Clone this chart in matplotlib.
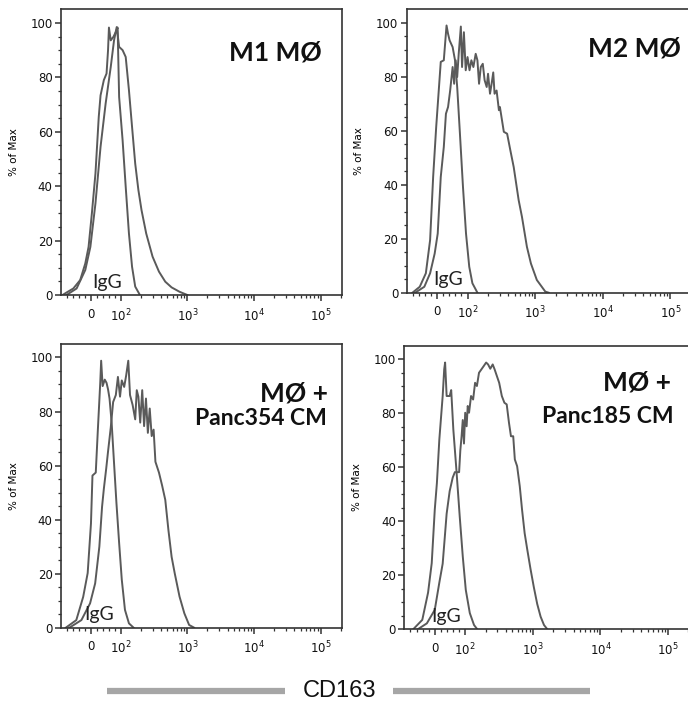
import numpy as np
import matplotlib
matplotlib.use("Agg")
import matplotlib.pyplot as plt
from matplotlib.lines import Line2D

# --- CD163 flow histograms (% of Max) ---
# M1 macrophages
m1_igg_x = [-95, -82, -59, -36, -19, -8, 3, 15, 26, 32, 43, 52, 57, 60, 66, 75, 83, 89, 94,
            106, 118, 132, 147, 164, 193]
m1_igg_y = [0, 0.9, 2.4, 5.5, 11.6, 17.7, 30, 44.7, 65.5, 73.4, 79, 81.4, 90, 98.3, 93.6, 94.9,
            96.7, 98.3, 72.8, 56.9, 39.8, 22.6, 10.4, 3.1, 0]
m1_cd_x = [-82, -48, -19, -2, 15, 32, 49, 66, 77, 86, 94, 106, 118, 132, 147, 164, 183, 204,
           240, 299, 373, 464, 578, 760, 1000]
m1_cd_y = [0, 2.4, 9.2, 17.7, 33.7, 54.5, 70.4, 83.8, 93.6, 98.5, 91.2, 90, 87.5, 75.3, 61.8,
           48.3, 38.6, 31.2, 22.6, 14.1, 8.6, 4.9, 2.8, 1.2, 0]

# M2 macrophages
m2_igg_x = [-81, -57, -37, -23, -13, -3, 12, 22, 31, 36, 41, 51, 59, 66, 75, 85, 95, 106, 118, 140]
m2_igg_y = [0, 2.2, 7.2, 19.5, 42.9, 61.4, 85.5, 86.1, 99, 95.9, 93.5, 91, 86, 76.2, 58.9,
            39.2, 21.9, 9.6, 3.5, 0]
m2_cd_x = [-72, -42, -23, -8, 2, 12, 22, 29, 36, 43, 51, 56, 61, 66, 71, 78, 82, 88, 94, 100,
           107, 114, 122, 132, 140, 148, 157, 168, 179, 192, 201, 215, 227, 240, 251, 269, 291,
           301, 344, 385, 430, 482, 570, 638, 755, 866, 1059, 1413, 1585]
m2_cd_y = [0, 2.2, 7.2, 14.5, 21.9, 42.9, 54, 66.3, 68.8, 75, 83.6, 77.4, 86.1, 79.9, 88.5,
           98.6, 83.6, 96.5, 82.4, 87.3, 82.4, 86.1, 83.6, 88.5, 86.1, 77.4, 83.6, 84.8, 78.7,
           76.2, 81.1, 73.7, 77.4, 81.6, 73.7, 74.9, 67.6, 68.8, 59.6, 58.9, 52.7, 46.5, 34.3,
           28.1, 17.0, 10.8, 4.7, 0.4, 0]

# MØ + Panc354 CM
p354_igg_x = [-84, -49, -26, -11, 0, 5, 16, 23, 31, 34, 39, 46, 52, 57, 62, 69, 77, 85, 94,
              103, 115, 132, 155]
p354_igg_y = [0, 2.8, 11.4, 20.2, 38.6, 56.3, 57.4, 73.3, 90.7, 98.8, 89.4, 91.8, 90.6, 88.2,
              84.8, 75.9, 61, 46.2, 31.4, 17.8, 6.6, 1.6, 0]
p354_cd_x = [-72, -32, -3, 14, 28, 37, 43, 51, 57, 66, 74, 83, 90, 97, 103, 112, 120, 129, 137,
             150, 164, 173, 183, 195, 209, 223, 238, 254, 271, 290, 310, 330, 373, 416, 464,
             518, 578, 645, 760, 898, 1059, 1259]
p354_cd_y = [0, 2.8, 9.0, 16.4, 30, 44.7, 51.4, 59, 65.2, 74, 83.5, 86.1, 92.8, 85.5, 91.5,
             89.1, 93.4, 98.8, 86.1, 82.4, 77.1, 87.9, 85.5, 75.9, 87.9, 74.6, 84.8, 72.1, 81.1,
             70.9, 73.3, 61.4, 57.4, 52.6, 47.3, 36, 26.2, 20, 11.5, 5.3, 1, 0]

# MØ + Panc185 CM
p185_igg_x = [-71, -41, -22, -10, 0, 7, 15, 26, 31, 34, 39, 43, 49, 54, 61, 71, 82, 92, 102,
              117, 135, 151]
p185_igg_y = [0, 3.5, 13.6, 24.5, 44.3, 54.2, 70.3, 86.4, 96.3, 98.8, 86.4, 86.4, 86.4, 88.6,
              74, 59.2, 41.8, 27, 14.6, 6, 1.6, 0]
p185_cd_x = [-56, -26, 0, 15, 26, 33, 39, 49, 59, 66, 80, 84, 88, 92, 96, 100, 105, 109, 114,
             122, 131, 140, 149, 160, 174, 188, 204, 218, 235, 255, 272, 294, 318, 348, 380,
             411, 444, 475, 513, 542, 586, 641, 693, 757, 828, 925, 1035, 1161, 1303, 1462, 1641]
p185_cd_y = [0, 2.2, 7.2, 17.3, 24.3, 34.2, 42.8, 51.2, 56.2, 58.2, 58.2, 66.3, 71.3, 77.5,
             68.8, 80.2, 75.2, 82.7, 80.2, 86.4, 85.1, 91.3, 90.1, 95.0, 96.3, 97.5, 98.8, 98.1,
             96.5, 98.1, 96.3, 93.8, 91.3, 86.4, 83.9, 83.3, 76.5, 71.5, 71.5, 62.9, 60.4, 53,
             44.3, 35.6, 29.5, 22.3, 15.6, 9.4, 4.7, 1.6, 0]

titles = [["M1 MØ"], ["M2 MØ"], ["MØ +", "Panc354 CM"], ["MØ +", "Panc185 CM"]]
tick_vals = [0, 1e2, 1e3, 1e4, 1e5]
tick_labels = ["0", "$10^2$", "$10^3$", "$10^4$", "$10^5$"]


# biexponential-ish display: linear between -100 and 100, log above
def biex(x):
    x = np.asarray(x, dtype=float)
    a = np.abs(x)
    lg = 0.45 + np.log10(np.maximum(a, 1e-9) / 100.0)
    return np.where(a <= 100, x * 0.0045, np.sign(x) * lg)


def biex_inv(p):
    p = np.asarray(p, dtype=float)
    a = np.abs(p)
    return np.where(a <= 0.45, p / 0.0045, np.sign(p) * 100.0 * 10 ** (a - 0.45))


minor_vals = [-80, -60, -40, -20, 20, 40, 60, 80]
for dec in [100, 1000, 10000, 100000]:
    for k in range(2, 10):
        if dec * k <= 2.1e5:
            minor_vals.append(dec * k)

fig = plt.figure(figsize=(6.88, 7.07), dpi=100)

# axes boxes (left, bottom, width, height)
boxes = [[0.0887, 0.5827, 0.4084, 0.4041],
         [0.5911, 0.5860, 0.4150, 0.4009],
         [0.0887, 0.1122, 0.4084, 0.4013],
         [0.5877, 0.1099, 0.4150, 0.4010]]
curves = [(m1_igg_x, m1_igg_y, m1_cd_x, m1_cd_y),
          (m2_igg_x, m2_igg_y, m2_cd_x, m2_cd_y),
          (p354_igg_x, p354_igg_y, p354_cd_x, p354_cd_y),
          (p185_igg_x, p185_igg_y, p185_cd_x, p185_cd_y)]
title_pos = [[(0.929, 0.85)], [(0.962, 0.86)],
             [(0.95, 0.827), (0.947, 0.739)], [(0.935, 0.869), (0.942, 0.749)]]
igg_pos = [(0.165, 0.025), (0.146, 0.027), (0.135, 0.027), (0.146, 0.027)]

line_col = "#5a5a5a"
for i in range(4):
    ax = fig.add_axes(boxes[i])
    ax.set_xscale("function", functions=(biex, biex_inv))
    gx, gy, cx, cy = curves[i]
    ax.plot(gx, gy, color=line_col, lw=1.4)
    ax.plot(cx, cy, color=line_col, lw=1.4)
    ax.set_xlim(-100, 2.1e5)
    ax.set_ylim(0, 105)

    ax.set_xticks(tick_vals)
    ax.set_xticklabels(tick_labels)
    ax.set_xticks(minor_vals, minor=True)
    ax.set_yticks([0, 20, 40, 60, 80, 100])
    ax.set_yticks(np.arange(0, 105, 5), minor=True)
    ax.tick_params(axis="both", which="major", labelsize=8.5, length=4, width=1.1,
                   color="#333333", labelcolor="#111111", pad=2)
    ax.tick_params(axis="both", which="minor", length=2.5, width=0.9, color="#333333")
    ax.tick_params(axis="x", which="major", pad=5)
    for s in ax.spines.values():
        s.set_linewidth(1.2)
        s.set_color("#333333")

    ax.set_ylabel("% of Max", fontsize=7.5)
    ax.yaxis.set_label_coords(-0.15, 0.5)

    for txt, (tx, ty) in zip(titles[i], title_pos[i]):
        fs = 19 if txt.startswith("M") else 16.5
        ax.text(tx, ty, txt, transform=ax.transAxes, ha="right", va="center",
                fontsize=fs, fontweight="bold", family="Lato", color="#111111")
    ax.text(igg_pos[i][0], igg_pos[i][1], "IgG", transform=ax.transAxes, ha="center",
            va="baseline", fontsize=14, family="Lato", color="#222222")

# shared x label with grey bars
fig.add_artist(Line2D([107 / 688, 285 / 688], [0.0226, 0.0226], lw=4.5, color="#a6a6a6",
                      solid_capstyle="butt"))
fig.add_artist(Line2D([393 / 688, 590 / 688], [0.0226, 0.0226], lw=4.5, color="#a6a6a6",
                      solid_capstyle="butt"))
fig.text(339 / 688, 0.0226, "CD163", ha="center", va="center", fontsize=17,
         family="Liberation Sans", color="#111111")

fig.savefig("out.png", dpi=100)
